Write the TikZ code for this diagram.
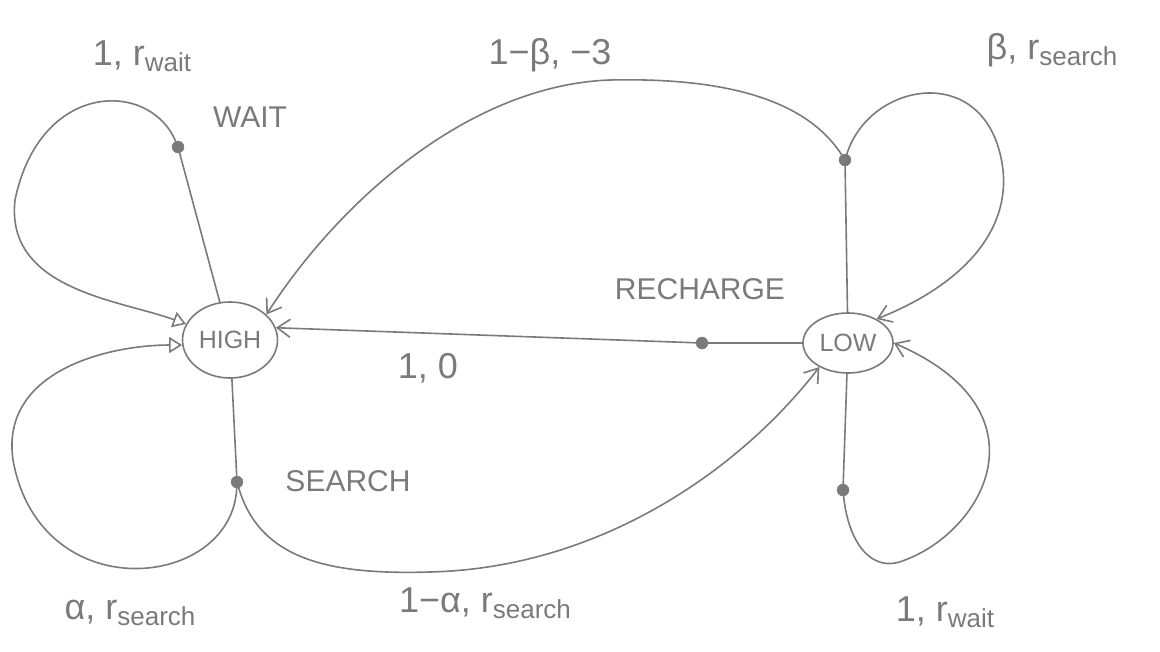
\documentclass[tikz,border=0pt]{standalone}
\usepackage{fontspec}
\setmainfont{Liberation Sans}
\usetikzlibrary{arrows.meta,shapes.geometric}
\definecolor{pencil}{HTML}{7A7A7A}
\newcommand{\sub}[1]{\raisebox{-0.3ex}{\fontsize{26}{28}\selectfont #1}}
\begin{document}
\begin{tikzpicture}[x=1pt,y=-1pt,
  line/.style={draw=pencil, line width=1.6pt, line cap=round},
  arr/.style={line, -{Straight Barb[length=13pt,width=18pt,line width=1.6pt]}},
  openarr/.style={line, -{Triangle[open,length=13pt,width=16pt,line width=1.6pt]}},
  state/.style={ellipse, draw=pencil, line width=1.6pt, text=pencil, font=\fontsize{25}{27}\selectfont, inner sep=0pt},
  act/.style={circle, fill=pencil, draw=pencil, inner sep=0pt, minimum size=12pt},
  lbl/.style={text=pencil, font=\fontsize{36}{40}\selectfont, inner sep=0pt},
  actlbl/.style={text=pencil, font=\fontsize{30}{32}\selectfont, inner sep=0pt}]
\useasboundingbox (0,0) rectangle (1160,651);

% states
\node[state, minimum width=95pt, minimum height=76pt] (high) at (230,340) {HIGH};
\node[state, minimum width=90pt, minimum height=60pt] (low) at (848,343) {LOW};

% action points
\node[act] (wait) at (178,147) {};
\node[act] (search) at (237,482) {};
\node[act] (recharge) at (702,343) {};
\node[act] (lowsearch) at (845,160) {};
\node[act] (lowwait) at (843,490) {};

% action labels
\node[actlbl] (twait) at (250,117) {WAIT};
\node[actlbl] (tsearch) at (348,481) {SEARCH};
\node[actlbl] (trecharge) at (700,289) {RECHARGE};

% HIGH: wait
\draw[line] (high) -- (wait);
\draw[openarr] (wait) .. controls (150,80) and (40,80) .. (15,200)
  .. controls (5,290) and (120,300) .. (high.160);

% HIGH: search
\draw[line] (high) -- (search);
\draw[openarr] (search) .. controls (232,590) and (40,610) .. (13,460)
  .. controls (0,370) and (110,345) .. (high.186);
\draw[arr] (search) .. controls (260,560) and (330,575) .. (430,572)
  .. controls (600,568) and (740,470) .. (low.220);

% LOW: recharge
\draw[line] (low) -- (recharge);
\draw[arr] (recharge) -- (high.15);

% LOW: search
\draw[line] (low) -- (lowsearch);
\draw[arr] (lowsearch) .. controls (800,90) and (700,78) .. (610,80)
  .. controls (470,85) and (340,200) .. (high.35);
\draw[arr] (lowsearch) .. controls (870,80) and (990,60) .. (1003,170)
  .. controls (1010,240) and (950,290) .. (low.40);

% LOW: wait
\draw[line] (low) -- (lowwait);
\draw[arr] (lowwait) .. controls (848,540) and (870,575) .. (905,560)
  .. controls (985,530) and (1050,410) .. (low.0);

% transition labels
\node[lbl] (pwaithigh) at (142,56) {1, r\sub{wait}};
\node[lbl] (plowhigh) at (550,55) {1−β, −3};
\node[lbl] (psearchlow) at (1052,50) {β, r\sub{search}};
\node[lbl] (precharge) at (428,368) {1, 0};
\node[lbl] (psearchhigh) at (130,613) {α, r\sub{search}};
\node[lbl] (pdeplete) at (485,603) {1−α, r\sub{search}};
\node[lbl] (pwaitlow) at (945,612) {1, r\sub{wait}};
\end{tikzpicture}
\end{document}
